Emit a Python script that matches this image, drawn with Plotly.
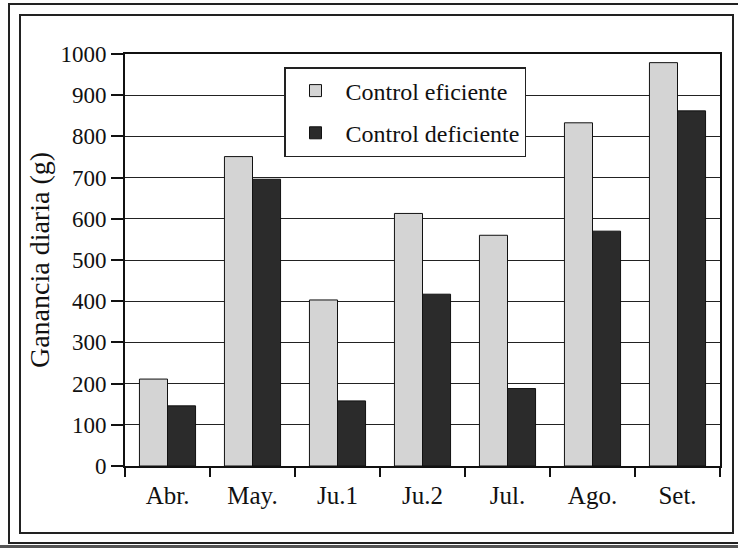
import plotly.graph_objects as go

categories = ["Abr.", "May.", "Ju.1", "Ju.2", "Jul.", "Ago.", "Set."]
eficiente = [211, 751, 403, 613, 560, 833, 979]
deficiente = [146, 696, 158, 417, 188, 570, 862]
y_ticks = [0, 100, 200, 300, 400, 500, 600, 700, 800, 900, 1000]

W, H = 738, 548
L, R, T, B = 125, 720, 54, 466

def px(x):
    return (x - L) / (R - L)

def py(y):
    return (B - y) / (B - T)

FONT = "Liberation Serif"

fig = go.Figure()
fig.add_trace(go.Bar(
    x=categories, y=eficiente, name="Control eficiente",
    marker=dict(color="#d4d4d4", line=dict(color="#111111", width=1)),
    legendgroup="a",
))
fig.add_trace(go.Bar(
    x=categories, y=deficiente, name="Control deficiente",
    marker=dict(color="#2b2b2b", line=dict(color="#111111", width=1)),
    legendgroup="b",
))

shapes = []
# outer double frame
shapes.append(dict(type="rect", xref="paper", yref="paper",
                   x0=px(9), x1=px(760), y0=py(543), y1=py(4),
                   line=dict(color="#222222", width=2), layer="below"))
shapes.append(dict(type="rect", xref="paper", yref="paper",
                   x0=px(20), x1=px(733), y0=py(533), y1=py(15),
                   line=dict(color="#222222", width=2), layer="below"))
shapes.append(dict(type="rect", xref="paper", yref="paper",
                   x0=px(0), x1=px(760), y0=py(550), y1=py(545),
                   line=dict(width=0), fillcolor="#555555", layer="below"))

fig.update_layout(
    width=W, height=H,
    margin=dict(l=L, r=W - R, t=T, b=H - B),
    paper_bgcolor="white", plot_bgcolor="white",
    barmode="group", bargap=0.34, bargroupgap=0,
    font=dict(family=FONT, size=23, color="#111111"),
    shapes=shapes,
    legend=dict(
        x=px(284), y=py(67), xanchor="left", yanchor="top",
        bgcolor="white", bordercolor="#222222", borderwidth=1.5,
        font=dict(family=FONT, size=24, color="#111111"),
        traceorder="grouped", tracegroupgap=8, itemwidth=50,
    ),
    xaxis=dict(
        type="category", showline=True, linecolor="#111111", linewidth=2,
        mirror=True, ticks="outside", tickson="boundaries", ticklen=9,
        tickcolor="#111111", tickwidth=1.5, showgrid=False,
        ticklabelstandoff=6,
        tickfont=dict(family=FONT, size=25, color="#111111"),
    ),
    yaxis=dict(
        range=[0, 1000], tickvals=y_ticks, showline=True, linecolor="#111111",
        linewidth=2, mirror=True, ticks="outside", ticklen=12,
        tickcolor="#111111", tickwidth=1.5, showgrid=True, gridcolor="#222222",
        gridwidth=1.2, zeroline=False,
        tickfont=dict(family=FONT, size=23, color="#111111"),
        title=dict(text="Ganancia diaria (g)", standoff=3,
                   font=dict(family=FONT, size=28, color="#111111")),
    ),
)

fig.write_html(
    "out.html",
    config={"displayModeBar": False},
    post_script="document.body.style.margin='0';document.body.style.overflow='hidden';",
)
